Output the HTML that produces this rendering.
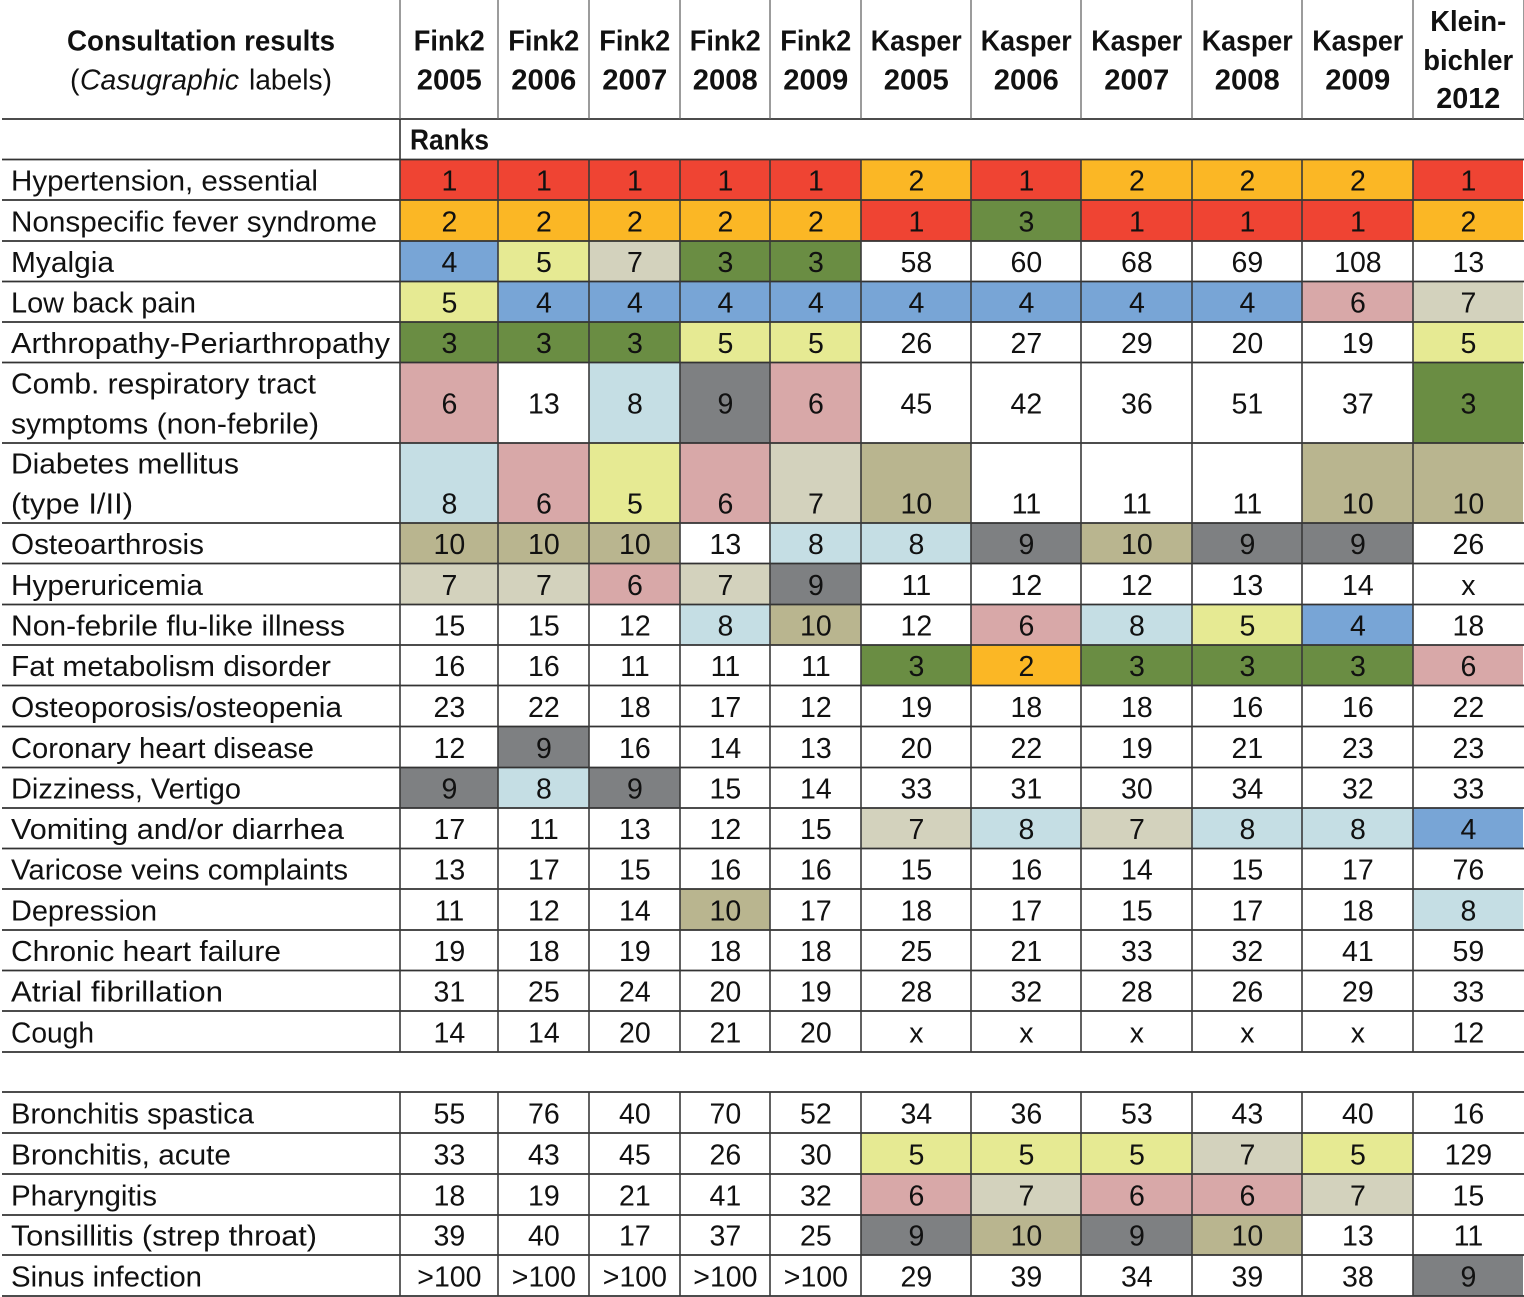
<!DOCTYPE html>
<html lang="en">
<head>
<meta charset="utf-8">
<title>Consultation results ranks</title>
<style>
html,body{margin:0;padding:0;background:#fff;width:1524px;height:1297px;overflow:hidden}
svg{display:block}
text{font-family:"Liberation Sans",Arial,sans-serif;font-size:28.5px;fill:#111}
.b{font-weight:bold}
.i{font-style:italic}
</style>
</head>
<body>
<svg id="rank-table" width="1524" height="1297" viewBox="0 0 1524 1297" xmlns="http://www.w3.org/2000/svg">
  <g id="fills"></g>
  <g id="lines"></g>
  <g id="head">
    <text class="b" x="67" y="50.5" textLength="268" lengthAdjust="spacingAndGlyphs">Consultation results</text>
    <text x="70" y="89.5">(</text>
    <text class="i" x="80" y="89.5" textLength="159" lengthAdjust="spacingAndGlyphs">Casugraphic</text>
    <text x="249" y="89.5" textLength="83" lengthAdjust="spacingAndGlyphs">labels)</text>
    <text class="b" x="410" y="149.5" textLength="79" lengthAdjust="spacingAndGlyphs">Ranks</text>
  </g>
  <g id="body"></g>
</svg>
<script>
var columnEdges = [400,498,589,680,770,861,971,1081,1192,1302,1413,1523];
var columnHeaders = [
  ["Fink2","2005"],["Fink2","2006"],["Fink2","2007"],["Fink2","2008"],["Fink2","2009"],
  ["Kasper","2005"],["Kasper","2006"],["Kasper","2007"],["Kasper","2008"],["Kasper","2009"],
  ["Klein-","bichler","2012"]
];
var rowLabels = [
  ["Hypertension, essential"],["Nonspecific fever syndrome"],["Myalgia"],["Low back pain"],
  ["Arthropathy-Periarthropathy"],["Comb. respiratory tract","symptoms (non-febrile)"],
  ["Diabetes mellitus","(type I/II)"],["Osteoarthrosis"],["Hyperuricemia"],
  ["Non-febrile flu-like illness"],["Fat metabolism disorder"],["Osteoporosis/osteopenia"],
  ["Coronary heart disease"],["Dizziness, Vertigo"],["Vomiting and/or diarrhea"],
  ["Varicose veins complaints"],["Depression"],["Chronic heart failure"],["Atrial fibrillation"],["Cough"],
  ["Bronchitis spastica"],["Bronchitis, acute"],["Pharyngitis"],["Tonsillitis (strep throat)"],["Sinus infection"]
];
var labelRightEdges = [
  [318],[377],[114],[196],[390],[316,319],[239,133],[204],[203],[345],[331],[342],[314],[241],[344],[348],[157],[281],[223],[94],
  [254],[231],[157],[317],[202]
];
var rowBottoms = [200,241,281.5,322,362.5,443,523,563.5,604.5,645,685.5,726.5,767.5,808,848.5,889,930,970.5,1011,1052,1133,1174,1215,1255,1296];
var rowTops = [159.5,200,241,281.5,322,362.5,443,523,563.5,604.5,645,685.5,726.5,767.5,808,848.5,889,930,970.5,1011,1092,1133,1174,1215,1255];
var ranks = [
  [1,1,1,1,1,2,1,2,2,2,1],
  [2,2,2,2,2,1,3,1,1,1,2],
  [4,5,7,3,3,58,60,68,69,108,13],
  [5,4,4,4,4,4,4,4,4,6,7],
  [3,3,3,5,5,26,27,29,20,19,5],
  [6,13,8,9,6,45,42,36,51,37,3],
  [8,6,5,6,7,10,11,11,11,10,10],
  [10,10,10,13,8,8,9,10,9,9,26],
  [7,7,6,7,9,11,12,12,13,14,"x"],
  [15,15,12,8,10,12,6,8,5,4,18],
  [16,16,11,11,11,3,2,3,3,3,6],
  [23,22,18,17,12,19,18,18,16,16,22],
  [12,9,16,14,13,20,22,19,21,23,23],
  [9,8,9,15,14,33,31,30,34,32,33],
  [17,11,13,12,15,7,8,7,8,8,4],
  [13,17,15,16,16,15,16,14,15,17,76],
  [11,12,14,10,17,18,17,15,17,18,8],
  [19,18,19,18,18,25,21,33,32,41,59],
  [31,25,24,20,19,28,32,28,26,29,33],
  [14,14,20,21,20,"x","x","x","x","x",12],
  [55,76,40,70,52,34,36,53,43,40,16],
  [33,43,45,26,30,5,5,5,7,5,129],
  [18,19,21,41,32,6,7,6,6,7,15],
  [39,40,17,37,25,9,10,9,10,13,11],
  [">100",">100",">100",">100",">100",29,39,34,39,38,9]
];
var rankColors = {1:"#EF4433",2:"#FBB725",3:"#6A8D43",4:"#78A5D6",5:"#E6EA93",6:"#D8A8A8",7:"#D3D2BD",8:"#C5DEE4",9:"#7E8082",10:"#B9B58F"};
var horizontalRules = [119,159.5,200,241,281.5,322,362.5,443,523,563.5,604.5,645,685.5,726.5,767.5,808,848.5,889,930,970.5,1011,1052,1092,1133,1174,1215,1255,1296];

var NS = "http://www.w3.org/2000/svg";
var fills = document.getElementById("fills");
var lines = document.getElementById("lines");
var head = document.getElementById("head");
var body = document.getElementById("body");

function addLine(x1, y1, x2, y2, color, width) {
  var l = document.createElementNS(NS, "line");
  l.setAttribute("x1", x1);
  l.setAttribute("y1", y1);
  l.setAttribute("x2", x2);
  l.setAttribute("y2", y2);
  l.setAttribute("stroke", color);
  l.setAttribute("stroke-width", width);
  
  
  lines.appendChild(l);
}
function addText(parent, str, x, y, anchor, cls, name) {
  var t = document.createElementNS(NS, "text");
  t.textContent = str;
  t.setAttribute("x", x);
  t.setAttribute("y", y);
  t.setAttribute("text-anchor", anchor);
  if (cls) t.setAttribute("class", cls);
  
  
  parent.appendChild(t);
  return t;
}

/* column headers */
var headerWidths = {"Fink2":71,"Kasper":91,"Klein-":76,"bichler":90,"2012":64};
columnHeaders.forEach(function (lab, c) {
  var cx = (columnEdges[c] + columnEdges[c + 1]) / 2 + 0.25;
  var baselines = lab.length === 3 ? [31, 70, 108] : [50.5, 89.5];
  lab.forEach(function (s, i) {
    var t = addText(head, s, cx, baselines[i], "middle", "b", "column-header");
    t.setAttribute("textLength", headerWidths[s] || 65);
    t.setAttribute("lengthAdjust", "spacingAndGlyphs");
  });
});

/* body rows */
ranks.forEach(function (row, r) {
  var top = rowTops[r], bottom = rowBottoms[r];
  var isTall = rowLabels[r].length === 2;
  var numBase = bottom - 9.5;
  if (r === 5) numBase = bottom - 29.5;
  row.forEach(function (v, c) {
    var x0 = columnEdges[c], x1 = columnEdges[c + 1];
    var color = rankColors[v];
    if (color) {
      var rect = document.createElementNS(NS, "rect");
      rect.setAttribute("x", x0);
      rect.setAttribute("y", top);
      rect.setAttribute("width", x1 - x0);
      rect.setAttribute("height", bottom - top);
      rect.setAttribute("fill", color);
      
      
      fills.appendChild(rect);
    }
    addText(body, String(v), (x0 + x1) / 2 + 0.4, numBase, "middle", "", "rank-value");
  });
  rowLabels[r].forEach(function (s, i) {
    var base = isTall ? (i === 0 ? bottom - 49.5 : bottom - 9.5) : bottom - 9.5;
    var t = addText(body, s, 11, base, "start", "", "row-label");
    t.setAttribute("textLength", labelRightEdges[r][i] - 11);
    t.setAttribute("lengthAdjust", "spacingAndGlyphs");
  });
});

/* rules */
horizontalRules.forEach(function (y) {
  addLine(2, y, 1524, y, "#333", 1.8);
});
columnEdges.forEach(function (x, i) {
  var w = 1.6;
  var col = "#3a3a3a";
  if (i < columnEdges.length - 1) {
    addLine(x, 0, x, 119, "#666", 1.3);
  }
  if (i === 0) addLine(x, 119, x, 159.5, "#333", w);
  if (i < columnEdges.length - 1) {
    addLine(x, 159.5, x, 1052, col, w);
    addLine(x, 1092, x, 1296, col, w);
  }
});
addLine(1523.5, 0, 1523.5, 119, "#999", 1);
</script>
</body>
</html>
